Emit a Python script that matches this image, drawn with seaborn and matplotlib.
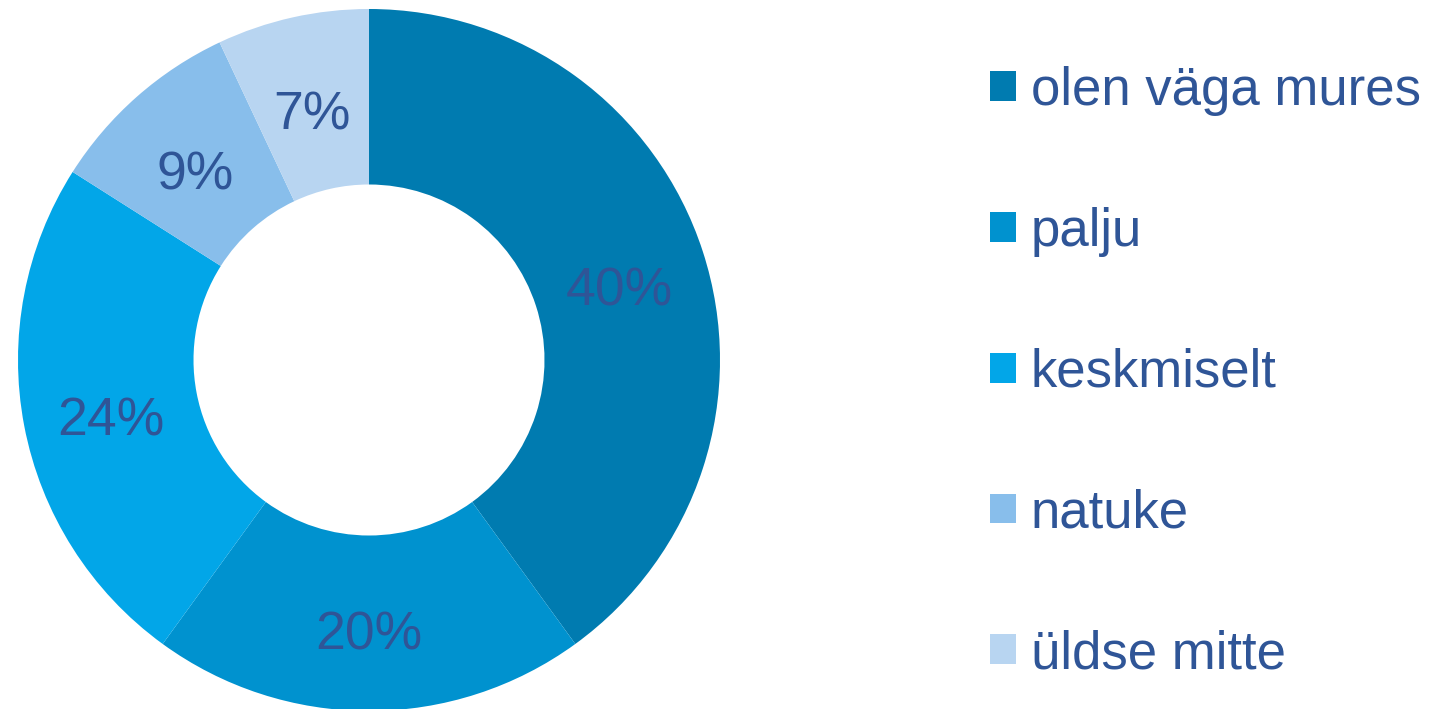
import matplotlib
matplotlib.use("Agg")
import matplotlib.pyplot as plt
import matplotlib.transforms as mtransforms
from matplotlib.patches import Patch
import seaborn as sns

# Survey answers and their shares (%)
categories = ["olen väga mures", "palju", "keskmiselt", "natuke", "üldse mitte"]
shares = [40, 20, 24, 9, 7]
colors = ["#007BB0", "#0092CF", "#02A6E8", "#88BEEB", "#B8D5F1"]
text_color = "#2F5597"

sns.set_theme(style="white")
plt.rcParams["font.family"] = ["Liberation Sans", "DejaVu Sans"]

W, H, DPI = 1430, 709, 100
fig = plt.figure(figsize=(W / DPI, H / DPI), dpi=DPI)

# Donut axes: centre and radius expressed in pixels
cx, cy, r = 369, 360, 351
ax = fig.add_axes([(cx - r) / W, (H - cy - r) / H, 2 * r / W, 2 * r / H])

wedges, texts, autotexts = ax.pie(
    shares,
    colors=colors,
    startangle=90,
    counterclock=False,
    radius=1.0,
    autopct=lambda p: f"{p:.0f}%",
    pctdistance=0.75,
    wedgeprops=dict(width=0.5, linewidth=0),
    textprops=dict(color=text_color, fontsize=38.5),
)
# Percent labels sit a touch below the ring's mid-line
label_shift = mtransforms.offset_copy(ax.transData, fig=fig, x=0, y=-7, units="dots")
for t in autotexts:
    t.set_verticalalignment("center_baseline")
    t.set_transform(label_shift)

ax.set_xlim(-1, 1)
ax.set_ylim(-1, 1)
ax.set_aspect("equal")
ax.axis("off")

handles = [Patch(facecolor=c, edgecolor="none") for c in colors]
fig.legend(
    handles,
    categories,
    loc="center left",
    bbox_to_anchor=(990 / W, (H - 372.5) / H),
    frameon=False,
    fontsize=38,
    labelcolor=text_color,
    handlelength=0.49,
    handleheight=0.49,
    handletextpad=0.28,
    labelspacing=1.72,
    borderpad=0,
    borderaxespad=0,
)

fig.savefig("out.png", dpi=DPI)
